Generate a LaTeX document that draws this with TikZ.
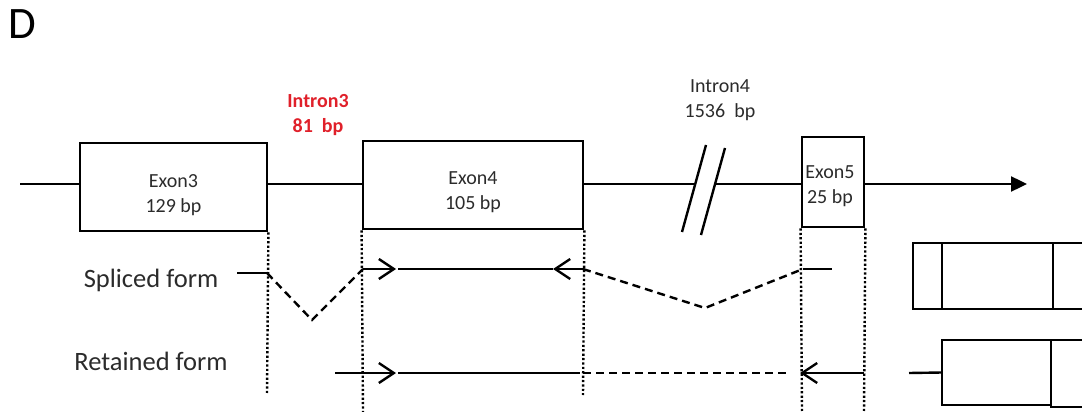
\documentclass[tikz,border=0pt]{standalone}
\usepackage{fontspec}
\setmainfont{Carlito}
\usepackage{tikz}
\definecolor{txtgray}{HTML}{2B2B2B}
\definecolor{intronred}{HTML}{E0202A}
\usetikzlibrary{arrows.meta, positioning}
\tikzset{
	exonbox/.style={draw, line width=2.8pt, minimum height=88pt, inner sep=0pt},
	lbl/.style={align=center, text=txtgray, font=\fontsize{20}{25}\selectfont},
	formlbl/.style={text=txtgray, font=\fontsize{26.5}{30}\selectfont, inner sep=0pt},
	gline/.style={line width=2.4pt},
	jline/.style={line width=2.4pt, dash pattern=on 8pt off 5pt},
	vguide/.style={line width=2.4pt, dash pattern=on 2.2pt off 2.2pt},
	barb/.style={line width=2.4pt, -{Straight Barb[length=15pt, width=20pt]}},
	seg/.style={draw, line width=2.8pt, minimum height=66pt, inner sep=0pt, outer sep=0pt}
}

\begin{document}
\begin{tikzpicture}[x=1pt, y=-1pt]
	\useasboundingbox (0,0) rectangle (1082,412);
	\clip (0,0) rectangle (1082,412);
	\node[font=\fontsize{45}{45}\selectfont] (panel) at (22,24) {D};

	\node[exonbox, minimum width=187pt] (ex3) at (173.5,187) {};
	\node[exonbox, minimum width=220pt] (ex4) at (473,185) {};
	\node[exonbox, minimum width=62pt, minimum height=90pt] (ex5) at (833,182) {};
	\node[lbl] (ex3t) at ([yshift=-8pt]ex3.center) {Exon3\\129 bp};
	\node[lbl] (ex4t) at ([yshift=-7pt]ex4.center) {Exon4\\105 bp};
	\node[lbl] (ex5t) at ([xshift=-3pt, yshift=-4pt]ex5.center) {Exon5\\25 bp};
	\node[lbl, text=intronred, font=\bfseries\fontsize{20}{25}\selectfont] (in3) at (318,115) {Intron3\\81~~bp};
	\node[lbl] (in4) at (720,100) {Intron4\\1536~~bp};

	\coordinate (lstart) at (20,184);
	\coordinate (brk1) at (695,184);
	\coordinate (brk2) at (715,184);
	\coordinate (lend) at (1027,184);
	\draw[gline] (lstart) -- (lstart -| ex3.west);
	\draw[gline] (ex3.east |- lstart) -- (ex4.west |- lstart);
	\draw[gline] (ex4.east |- lstart) -- (brk1);
	\draw[gline] (brk2) -- (ex5.west |- lstart);
	\draw[gline, -{Triangle[length=16pt, width=15pt]}] (ex5.east |- lstart) -- (lend);
	\draw[gline] (682,232) -- (706,145);
	\draw[gline] (701,235) -- (725,148);

	\coordinate (gA) at (267,395);
	\coordinate (gB) at (363,412);
	\coordinate (gC) at (583,395);
	\coordinate (gD) at (802,412);
	\coordinate (gE) at (864,412);
	\draw[vguide] (ex3.south east) -- (gA);
	\draw[vguide] (ex4.south west) -- (gB);
	\draw[vguide] (ex4.south east) -- (gC);
	\draw[vguide] (ex5.south west) -- (gD);
	\draw[vguide] (ex5.south east) -- (gE);

	\node[formlbl] (spl) at (151,280) {Spliced form};
	\node[formlbl] (ret) at (151,361) {Retained form};

	\coordinate (sp0) at (237,273);
	\coordinate (sp1) at (267,273);
	\coordinate (sp2) at (312,320);
	\coordinate (sp3) at (363,269);
	\coordinate (sp4) at (396,269);
	\coordinate (sp5) at (398,269);
	\coordinate (sp6) at (553,269);
	\coordinate (sp7) at (583,269);
	\coordinate (sp8) at (705,308);
	\coordinate (sp9) at (803,269);
	\coordinate (sp10) at (832,269);
	\draw[gline] (sp0) -- (sp1);
	\draw[jline] (sp1) -- (sp2) -- (sp3);
	\draw[barb] (sp3) -- (sp4);
	\draw[gline] (sp5) -- (sp6);
	\draw[barb] (sp7) -- (sp6);
	\draw[jline] (sp7) -- (sp8) -- (sp9);
	\draw[gline] (sp9) -- (sp10);

	\coordinate (rt0) at (335,373);
	\coordinate (rt1) at (396,373);
	\coordinate (rt2) at (398,373);
	\coordinate (rt3) at (580,373);
	\coordinate (rt4) at (583,373);
	\coordinate (rt5) at (789,373);
	\coordinate (rt6) at (800,373);
	\coordinate (rt7) at (864,373);
	\draw[barb] (rt0) -- (rt1);
	\draw[gline] (rt2) -- (rt3);
	\draw[jline] (rt4) -- (rt5);
	\draw[barb] (rt7) -- (rt6);

	\node[seg, minimum width=29pt] (mA3) at (927.5,276) {};
	\node[seg, minimum width=111pt, right=0pt of mA3] (mA4) {};
	\node[seg, minimum width=45pt, right=0pt of mA4] (mA5) {};
	\node[seg, minimum width=109pt, minimum height=65pt] (mB4) at (996.5,372.5) {};
	\node[seg, minimum width=45pt, minimum height=67pt, anchor=north west] (mB5) at (mB4.north east) {};
	\coordinate (mB0) at (909,373);
	\draw[gline] (mB0) -- (mB4.west);
\end{tikzpicture}
\end{document}
